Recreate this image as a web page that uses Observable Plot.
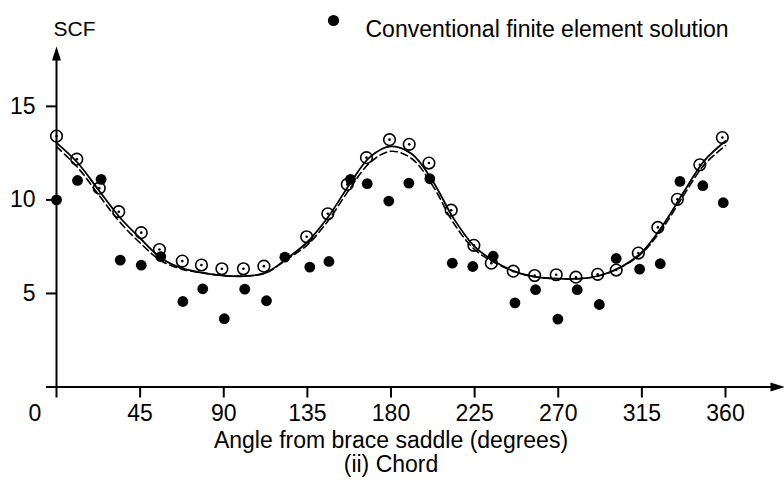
<!DOCTYPE html>
<html>
<head>
<meta charset="utf-8">
<script src="https://cdn.jsdelivr.net/npm/d3@7"></script>
<script src="https://cdn.jsdelivr.net/npm/@observablehq/plot@0.6"></script>
<style>
  html, body { margin: 0; padding: 0; background: #fff; }
  #chart svg { display: block; }
</style>
</head>
<body>
<div id="chart"></div>
<script>
// ---- Data ----
// Open circles with centre dot (curve-fitting points)
const openAngle = [0, 10.9, 23, 33.5, 45.6, 55.4, 67.7, 78, 89, 100.6, 111.6,
  134.6, 146, 156.5, 166.8, 179.2, 189.8, 200.4, 212.4, 224.6, 234, 245.8,
  257.3, 268.9, 279.5, 291.2, 301.2, 313.1, 323.6, 334.1, 346.2, 358.3];
const openSCF = [13.41, 12.18, 10.63, 9.37, 8.25, 7.35, 6.73, 6.52, 6.32, 6.32, 6.46,
  8.03, 9.26, 10.83, 12.26, 13.22, 12.97, 11.97, 9.45, 7.57, 6.62, 6.19,
  5.96, 6.0, 5.87, 6.02, 6.25, 7.16, 8.53, 10.03, 11.88, 13.33];

// Filled dots: conventional finite element solution
const feAngle = [0, 11.3, 24, 34.3, 45.6, 56.1, 68, 78.7, 90.3, 101.3, 113,
  122.9, 136.3, 146.6, 158.2, 167.2, 178.8, 189.6, 200.9, 213, 224, 235,
  246.7, 257.8, 269.8, 280.2, 292.1, 301.2, 313.8, 324.9, 335.5, 347.8, 358.8];
const feSCF = [10.0, 11.04, 11.1, 6.78, 6.51, 6.97, 4.57, 5.25, 3.65, 5.23, 4.61,
  6.94, 6.41, 6.71, 11.1, 10.87, 9.94, 10.9, 11.13, 6.62, 6.44, 6.99,
  4.5, 5.2, 3.63, 5.2, 4.41, 6.87, 6.3, 6.59, 10.99, 10.76, 9.85];

// Curves (solid and dashed)
const curveAngle = [0, 11.25, 22.5, 33.75, 45, 56.25, 67.5, 78.75, 90, 101.25, 112.5,
  123.75, 135, 146.25, 157.5, 168.75, 180, 191.25, 202.5, 213.75, 225, 236.25,
  247.5, 258.75, 270, 281.25, 292.5, 303.75, 315, 326.25, 337.5, 348.75, 360];
const solidSCF = [13.05, 12.0, 10.55, 9.1, 7.95, 6.9, 6.35, 6.1, 5.95, 5.93, 6.1,
  6.85, 7.75, 9.1, 10.8, 12.3, 12.86, 12.45, 11.0, 9.0, 7.5, 6.68,
  6.14, 5.87, 5.79, 5.79, 5.96, 6.41, 7.21, 8.64, 10.42, 12.11, 13.15];
const dashedSCF = [12.85, 11.75, 10.3, 8.85, 7.7, 6.75, 6.3, 6.1, 5.95, 5.93, 6.1,
  6.8, 7.6, 8.9, 10.55, 12.0, 12.6, 12.2, 10.75, 8.75, 7.35, 6.62,
  6.14, 5.87, 5.79, 5.79, 5.96, 6.4, 7.15, 8.5, 10.25, 11.9, 12.9];

const xTicks = [45, 90, 135, 180, 225, 270, 315, 360];
const yTicks = [5, 10, 15];
const xOriginLabel = "0";
const yAxisTitle = "SCF";
const xAxisTitle = "Angle from brace saddle (degrees)";
const subTitle = "(ii) Chord";
const legendLabel = "Conventional finite element solution";

// ---- Tables built from the arrays ----
const openData = openAngle.map((a, i) => ({angle: a, scf: openSCF[i]}));
const feData = feAngle.map((a, i) => ({angle: a, scf: feSCF[i]}));
const solidData = curveAngle.map((a, i) => ({angle: a, scf: solidSCF[i]}));
const dashedData = curveAngle.map((a, i) => ({angle: a, scf: dashedSCF[i]}));

// arrowhead symbols (tip at origin)
const upArrow = {draw(ctx) { ctx.moveTo(0, 0); ctx.lineTo(-4.5, 14); ctx.lineTo(4.5, 14); ctx.closePath(); }};
const rightArrow = {draw(ctx) { ctx.moveTo(0, 0); ctx.lineTo(-14, -4.5); ctx.lineTo(-14, 4.5); ctx.closePath(); }};

const font = "Liberation Sans, Arial, Helvetica, sans-serif";
const W = 784, H = 491, MT = 46, MB = 104.5, ML = 56, MR = 59;
const yMax = 18.2;
const tickDepth = 11 * yMax / (H - MT - MB); // 11px expressed in y units

const plot = Plot.plot({
  width: W,
  height: H,
  marginLeft: ML,
  marginRight: MR,
  marginTop: MT,
  marginBottom: MB,
  style: {fontFamily: font, fontSize: "23px", background: "#fff", color: "#000", overflow: "visible"},
  x: {domain: [0, 360], axis: null},
  y: {domain: [0, yMax], axis: null},
  marks: [
    // axes lines
    Plot.ruleY([0], {insetLeft: -10, insetRight: -52, stroke: "#000", strokeWidth: 2}),
    Plot.ruleX([0], {insetBottom: -11, insetTop: 8, stroke: "#000", strokeWidth: 2}),
    Plot.dot([0], {frameAnchor: "top-left", symbol: upArrow, fill: "#000", stroke: "none"}),
    Plot.dot([0], {frameAnchor: "bottom-right", dx: MR, symbol: rightArrow, fill: "#000", stroke: "none"}),
    // x ticks and labels
    Plot.ruleX(xTicks, {x: d => d, y1: -tickDepth, y2: 0, stroke: "#000", strokeWidth: 2}),
    Plot.text(xTicks, {x: d => d, frameAnchor: "bottom", dy: 34, text: d => String(d), fill: "#000", fontSize: 23}),
    Plot.text([xOriginLabel], {frameAnchor: "bottom-left", dx: -28, dy: 34, fill: "#000", fontSize: 23}),
    // y ticks and labels
    Plot.axisY(yTicks, {anchor: "left", tickSize: 10, tickPadding: 11, strokeWidth: 2, label: null, fill: "#000", fontSize: 23}),
    // titles
    Plot.text([yAxisTitle], {frameAnchor: "top-left", dx: -3, dy: -25, fill: "#000", fontSize: 21}),
    Plot.text([xAxisTitle], {frameAnchor: "bottom", dy: 61, fill: "#000", fontSize: 23}),
    Plot.text([subTitle], {frameAnchor: "bottom", dy: 85, fill: "#000", fontSize: 23}),
    // legend
    Plot.dot([0], {frameAnchor: "top-left", dx: 277, dy: -26, r: 5.6, fill: "#000", stroke: "none"}),
    Plot.text([legendLabel], {frameAnchor: "top-left", dx: 309, dy: -25.5, textAnchor: "start", fill: "#000", fontSize: 23}),
    // curves
    Plot.line(solidData, {x: "angle", y: "scf", curve: "catmull-rom", stroke: "#000", strokeWidth: 1.8}),
    Plot.line(dashedData, {x: "angle", y: "scf", curve: "catmull-rom", stroke: "#000", strokeWidth: 1.6, strokeDasharray: "7,4"}),
    // open circles with centre dot
    Plot.dot(openData, {x: "angle", y: "scf", r: 5.8, stroke: "#000", strokeWidth: 1.6, fill: "none"}),
    Plot.dot(openData, {x: "angle", y: "scf", r: 1.3, fill: "#000", stroke: "none"}),
    // filled dots
    Plot.dot(feData, {x: "angle", y: "scf", r: 5.4, fill: "#000", stroke: "none"})
  ]
});
document.getElementById("chart").appendChild(plot);
</script>
</body>
</html>
